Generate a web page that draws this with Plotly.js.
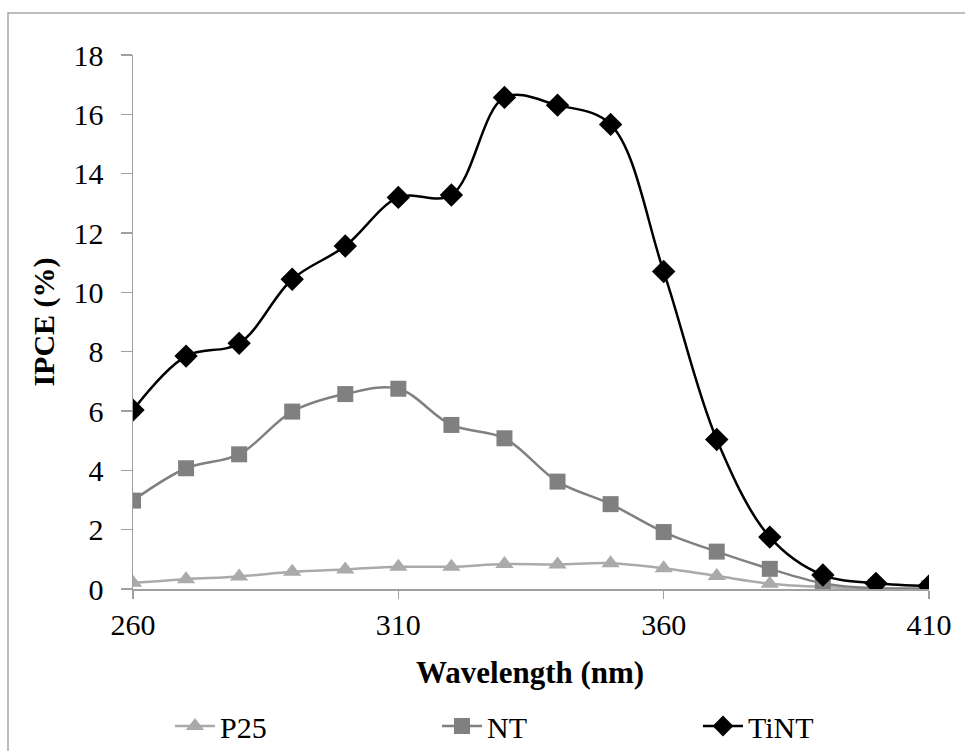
<!DOCTYPE html>
<html>
<head>
<meta charset="utf-8">
<script src="https://cdn.plot.ly/plotly-3.0.1.min.js"></script>
<style>
html,body{margin:0;padding:0;background:#fff;}
#chart{width:965px;height:751px;}
</style>
</head>
<body>
<div id="chart"></div>
<script>
const wavelength = [260,270,280,290,300,310,320,330,340,350,360,370,380,390,400,410];
const p25  = [0.21,0.33,0.42,0.58,0.66,0.75,0.75,0.84,0.83,0.87,0.70,0.44,0.18,0.07,0.03,0.02];
const nt   = [2.98,4.07,4.54,5.98,6.57,6.75,5.53,5.08,3.62,2.86,1.92,1.26,0.68,0.19,0.02,0.02];
const tint = [6.03,7.85,8.28,10.44,11.56,13.2,13.28,16.57,16.31,15.66,10.7,5.04,1.75,0.47,0.19,0.1];
const xTicks = [260,310,360,410];
const yTicks = [0,2,4,6,8,10,12,14,16,18];

const font = "Liberation Serif, Times New Roman, serif";

const traces = [
  {x: wavelength, y: p25, name: 'P25', mode: 'lines+markers', legend: 'legend',
   line: {color: '#aaaaaa', width: 2.5, shape: 'spline', smoothing: 1},
   marker: {symbol: 'triangle-up', size: 16, color: '#aaaaaa'}},
  {x: wavelength, y: nt, name: 'NT', mode: 'lines+markers', legend: 'legend2',
   line: {color: '#808080', width: 2.5, shape: 'spline', smoothing: 1},
   marker: {symbol: 'square', size: 16, color: '#808080'}},
  {x: wavelength, y: tint, name: 'TiNT', mode: 'lines+markers', legend: 'legend3',
   line: {color: '#000000', width: 2.5, shape: 'spline', smoothing: 1},
   marker: {symbol: 'diamond', size: 18, color: '#000000'}}
];

function leg(px) {
  return {orientation: 'h', xref: 'container', yref: 'container',
          x: px/965, y: 1 - 726/751, xanchor: 'left', yanchor: 'middle',
          font: {family: font, size: 30, color: '#000'}, itemwidth: 40,
          bgcolor: 'rgba(0,0,0,0)'};
}

const layout = {
  width: 965, height: 751,
  margin: {l: 133, r: 36, t: 55, b: 162, autoexpand: false},
  paper_bgcolor: '#ffffff', plot_bgcolor: '#ffffff',
  font: {family: font, size: 30, color: '#000'},
  showlegend: true,
  legend: leg(170), legend2: leg(437), legend3: leg(698),
  xaxis: {range: [260, 410], tickvals: xTicks, ticktext: xTicks.map(String),
          showgrid: false, zeroline: false, showline: true, linecolor: '#a0a0a0', linewidth: 1.5,
          ticks: 'outside', ticklen: 8, tickcolor: '#a0a0a0', tickwidth: 1.5,
          tickfont: {family: font, size: 30}, automargin: true},
  yaxis: {range: [0, 18], tickvals: yTicks, ticktext: yTicks.map(String),
          showgrid: false, zeroline: false, showline: true, linecolor: '#a0a0a0', linewidth: 1.5,
          ticks: 'outside', ticklen: 11, tickcolor: '#a0a0a0', tickwidth: 1.5,
          ticklabelstandoff: 11,
          tickfont: {family: font, size: 30}, automargin: true,
          title: {text: '<b>IPCE (%)</b>', font: {family: font, size: 30}, standoff: 10}},
  annotations: [{text: '<b>Wavelength (nm)</b>', xref: 'paper', yref: 'paper',
                 x: (530-133)/796, y: (589-672)/534, xanchor: 'center', yanchor: 'middle',
                 showarrow: false, font: {family: font, size: 31, color: '#000'}}],
  shapes: [{type: 'rect', xref: 'paper', yref: 'paper',
            x0: (8-133)/796, x1: 1.3, y0: -0.6, y1: (589-13)/534,
            line: {color: '#a6a6a6', width: 1.5}, fillcolor: 'rgba(0,0,0,0)', layer: 'below'}]
};

Plotly.newPlot('chart', traces, layout, {displayModeBar: false, staticPlot: true});
</script>
</body>
</html>
